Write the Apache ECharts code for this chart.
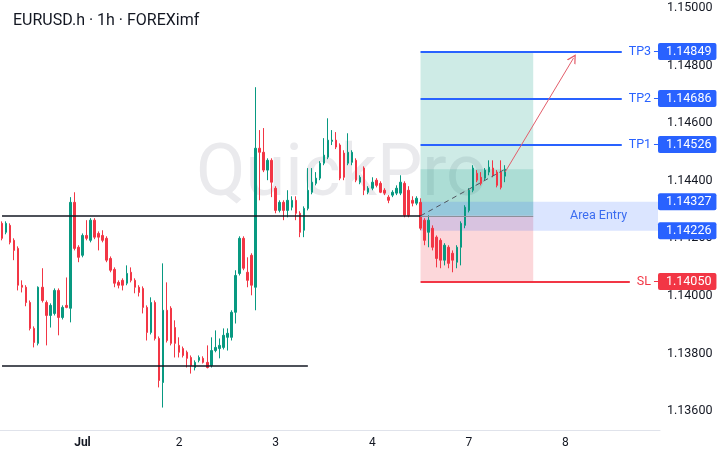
<!DOCTYPE html>
<html><head><meta charset="utf-8">
<script src="https://cdn.jsdelivr.net/npm/echarts@6/dist/echarts.min.js"></script>
<style>html,body{margin:0;padding:0;background:#fff;}#c{width:722px;height:456px;}</style>
</head><body><div id="c"></div>
<script>
const title = 'EURUSD.h · 1h · FOREXimf';
const watermark = 'QuickPro';
// hourly candles [open, close, low, high], Jun 30 04:00 -> Jul 7 09:00 (weekend skipped)
const ohlc = [
[1.14252,1.14200,1.14193,1.14259],[1.14221,1.14252,1.14214,1.14259],[1.14245,1.14186,1.14179,1.14252],
[1.14193,1.14158,1.14124,1.14200],[1.14165,1.14037,1.14019,1.14172],[1.14037,1.14030,1.14012,1.14054],
[1.14030,1.13977,1.13964,1.14037],[1.13977,1.13887,1.13880,1.13984],[1.13887,1.13838,1.13821,1.13894],
[1.13835,1.14030,1.13828,1.14033],[1.14030,1.13984,1.13977,1.14096],[1.13977,1.13932,1.13828,1.13984],
[1.13932,1.13967,1.13890,1.13974],[1.13939,1.14019,1.13932,1.14026],[1.14019,1.13925,1.13863,1.14026],
[1.13925,1.13960,1.13918,1.13967],[1.13967,1.13960,1.13957,1.14064],[1.13957,1.14325,1.13908,1.14343],
[1.14325,1.14165,1.14158,1.14360],[1.14169,1.14134,1.14117,1.14176],[1.14141,1.14210,1.14134,1.14217],
[1.14210,1.14200,1.14193,1.14263],[1.14193,1.14263,1.14186,1.14270],[1.14263,1.14204,1.14197,1.14270],
[1.14217,1.14204,1.14158,1.14224],[1.14210,1.14193,1.14186,1.14228],[1.14200,1.14124,1.14117,1.14207],
[1.14130,1.14089,1.14082,1.14137],[1.14092,1.14044,1.14030,1.14099],[1.14047,1.14037,1.14026,1.14054],
[1.14054,1.14037,1.14019,1.14061],[1.14044,1.14078,1.14037,1.14106],[1.14082,1.14054,1.14047,1.14099],
[1.14054,1.14030,1.14009,1.14061],[1.14030,1.14012,1.13998,1.14037],[1.14026,1.13960,1.13939,1.14033],
[1.13960,1.13873,1.13845,1.13967],[1.13873,1.13977,1.13866,1.13995],[1.13977,1.13852,1.13845,1.13984],
[1.13852,1.13706,1.13682,1.13859],[1.13699,1.13950,1.13612,1.14113],[1.13950,1.13845,1.13838,1.14047],
[1.13957,1.13835,1.13828,1.13964],[1.13890,1.13835,1.13786,1.13915],[1.13828,1.13804,1.13786,1.13856],
[1.13817,1.13793,1.13786,1.13824],[1.13804,1.13783,1.13751,1.13810],[1.13786,1.13758,1.13730,1.13793],
[1.13751,1.13769,1.13741,1.13776],[1.13776,1.13786,1.13769,1.13793],[1.13783,1.13769,1.13765,1.13790],
[1.13769,1.13751,1.13748,1.13828],[1.13758,1.13810,1.13751,1.13856],[1.13810,1.13821,1.13804,1.13880],
[1.13817,1.13828,1.13783,1.13852],[1.13821,1.13863,1.13814,1.13887],[1.13856,1.13870,1.13810,1.13887],
[1.13856,1.13943,1.13845,1.13950],[1.13943,1.14071,1.13904,1.14089],[1.14078,1.14200,1.14071,1.14207],
[1.14200,1.14096,1.14089,1.14207],[1.14082,1.14054,1.14030,1.14134],[1.14141,1.14037,1.14002,1.14148],
[1.14030,1.14513,1.13950,1.14725],[1.14513,1.14499,1.14332,1.14576],[1.14499,1.14437,1.14430,1.14583],
[1.14437,1.14471,1.14402,1.14478],[1.14471,1.14395,1.14343,1.14478],[1.14374,1.14297,1.14287,1.14381],
[1.14297,1.14325,1.14290,1.14332],[1.14325,1.14297,1.14263,1.14332],[1.14297,1.14332,1.14273,1.14367],
[1.14308,1.14332,1.14297,1.14346],[1.14332,1.14287,1.14263,1.14346],[1.14287,1.14221,1.14204,1.14294],
[1.14228,1.14304,1.14204,1.14311],[1.14304,1.14367,1.14297,1.14444],[1.14360,1.14395,1.14353,1.14444],
[1.14391,1.14409,1.14384,1.14430],[1.14409,1.14461,1.14402,1.14468],[1.14461,1.14489,1.14454,1.14548],
[1.14482,1.14541,1.14475,1.14617],[1.14537,1.14541,1.14524,1.14576],[1.14541,1.14517,1.14510,1.14569],
[1.14524,1.14409,1.14402,1.14530],[1.14496,1.14412,1.14402,1.14506],[1.14461,1.14499,1.14454,1.14565],
[1.14464,1.14499,1.14454,1.14506],[1.14471,1.14402,1.14395,1.14478],[1.14395,1.14412,1.14388,1.14419],
[1.14444,1.14367,1.14350,1.14450],[1.14360,1.14374,1.14353,1.14381],[1.14374,1.14395,1.14367,1.14412],
[1.14402,1.14384,1.14377,1.14409],[1.14391,1.14360,1.14357,1.14398],[1.14367,1.14357,1.14350,1.14374],
[1.14343,1.14332,1.14322,1.14350],[1.14350,1.14360,1.14343,1.14367],[1.14357,1.14374,1.14350,1.14384],
[1.14357,1.14395,1.14350,1.14419],[1.14391,1.14280,1.14273,1.14398],[1.14367,1.14280,1.14273,1.14381],
[1.14332,1.14322,1.14311,1.14346],[1.14322,1.14339,1.14315,1.14346],[1.14325,1.14235,1.14228,1.14339],
[1.14263,1.14193,1.14176,1.14270],[1.14221,1.14263,1.14169,1.14280],[1.14235,1.14169,1.14158,1.14245],
[1.14204,1.14130,1.14099,1.14210],[1.14193,1.14124,1.14096,1.14200],[1.14124,1.14176,1.14106,1.14183],
[1.14169,1.14113,1.14096,1.14176],[1.14148,1.14124,1.14082,1.14158],[1.14117,1.14169,1.14096,1.14176],
[1.14169,1.14252,1.14106,1.14259],[1.14245,1.14308,1.14235,1.14315],[1.14297,1.14367,1.14290,1.14374],
[1.14367,1.14444,1.14360,1.14454],[1.14426,1.14402,1.14395,1.14437],[1.14412,1.14391,1.14384,1.14430],
[1.14409,1.14437,1.14402,1.14444],[1.14430,1.14447,1.14419,1.14471],[1.14444,1.14419,1.14412,1.14471],
[1.14430,1.14384,1.14377,1.14437],[1.14430,1.14377,1.14370,1.14471],[1.14416,1.14440,1.14395,1.14454]
];
const totalSlots = 164;                 // candles + empty future slots on the time axis
const dayStartIdx = [20, 44, 68, 92, 116, 140];
const dayLabels = ['Jul', '2', '3', '4', '7', '8'];
const yTicks = [1.136, 1.138, 1.140, 1.142, 1.144, 1.146, 1.148, 1.150];
const tpNames = ['TP1', 'TP2', 'TP3'];
const tpLevels = [1.14526, 1.14686, 1.14849];
const slLevel = 1.14050;
const entryZone = [1.14226, 1.14327];
const entryPrice = 1.14278;
const supportLevels = [1.14278, 1.13758];
const supportEndIdx = [104, 76];
const posStartIdx = 104, posEndIdx = 132, levelEndIdx = 154, slEndIdx = 156, zoneEndIdx = 163;
const lastIdx = 125, lastClose = 1.14440;
const arrowTarget = [142, 1.14826];

// category labels (hourly)
const categories = [];
const t0 = Date.UTC(2025, 5, 30, 4);
for (let i = 0; i < totalSlots; i++) {
  const h = i < 116 ? i : i + 48;
  const d = new Date(t0 + h * 3600e3);
  categories.push((d.getUTCMonth() + 1) + '-' + d.getUTCDate() + ' ' + String(d.getUTCHours()).padStart(2, '0') + ':00');
}

const ink = '#131722', up = '#089981', down = '#f23645', blue = '#2962ff';
const FF = 'Roboto';
const chart = echarts.init(document.getElementById('c'));

function seg(i0, i1, v, lineStyle, label) {
  return [{coord: [i0, v], lineStyle: lineStyle, label: label || {show: false}}, {coord: [i1, v]}];
}
const tagLabel = (bg, v) => ({show: true, position: 'end', distance: -2, formatter: v.toFixed(5),
  backgroundColor: bg, color: '#ffffff', fontSize: 12.5, fontFamily: FF, padding: [2, 5, 1, 8], borderRadius: 2, lineHeight: 14});

const overlayLines = [];
supportLevels.forEach((v, k) => overlayLines.push(seg(0, supportEndIdx[k], v, {color: ink, width: 1.5, type: 'solid'})));
overlayLines.push(seg(posStartIdx, posEndIdx, entryPrice, {color: '#8d909a', width: 1, type: 'solid'}));
tpLevels.forEach((v, k) => {
  overlayLines.push(seg(posStartIdx, levelEndIdx, v, {color: blue, width: 2, type: 'solid'},
    {show: true, position: 'end', distance: 7, formatter: tpNames[k], color: blue, fontSize: 12.5, fontFamily: FF}));
  overlayLines.push(seg(zoneEndIdx - 1, zoneEndIdx, v, {color: blue, width: 1, type: 'solid'}));
});
overlayLines.push(seg(posStartIdx, slEndIdx, slLevel, {color: down, width: 2, type: 'solid'},
  {show: true, position: 'end', distance: 7, formatter: 'SL', color: down, fontSize: 12.5, fontFamily: FF}));
overlayLines.push(seg(zoneEndIdx - 1, zoneEndIdx, slLevel, {color: down, width: 1, type: 'solid'}));

const tagLines = [];
tpLevels.forEach(v => tagLines.push({yAxis: v, label: tagLabel(blue, v)}));
entryZone.forEach(v => tagLines.push({yAxis: v, label: tagLabel(blue, v)}));
tagLines.push({yAxis: slLevel, label: tagLabel(down, slLevel)});

const option = {
  backgroundColor: '#ffffff',
  animation: false,
  title: {text: title, left: 8, top: 8, textStyle: {fontSize: 16, fontWeight: 'normal', color: ink, fontFamily: FF}},
  graphic: [{type: 'text', left: 196, top: 141, z: 0, silent: true,
    style: {text: watermark, font: '72px Roboto', fill: '#eaeaed'}}],
  grid: {left: 0, right: 62, top: 0, bottom: 26},
  xAxis: {
    type: 'category', data: categories, boundaryGap: true,
    axisLine: {show: true, lineStyle: {color: '#e0e3eb'}}, axisTick: {show: false}, splitLine: {show: false},
    axisLabel: {
      interval: (idx) => dayStartIdx.indexOf(idx) >= 0,
      formatter: (val, idx) => { const k = dayStartIdx.indexOf(idx); return k === 0 ? '{b|' + dayLabels[k] + '}' : dayLabels[k]; },
      color: ink, fontSize: 12, fontFamily: FF, margin: 7,
      rich: {b: {fontWeight: 'bold', fontSize: 12, fontFamily: FF, color: ink}}
    }
  },
  yAxis: {
    type: 'value', position: 'right', min: 1.13534, max: 1.15028, scale: true,
    splitLine: {show: false}, axisLine: {show: false}, axisTick: {show: false},
    axisLabel: {customValues: yTicks, formatter: v => v.toFixed(5), color: ink, fontSize: 12.5, fontFamily: FF, margin: 7}
  },
  series: [
    {
      type: 'line', data: [], z: 1, silent: true,
      markArea: {silent: true, data: [
        [{coord: [posStartIdx, tpLevels[2]], itemStyle: {color: 'rgba(8,153,129,0.2)'}}, {coord: [posEndIdx, entryPrice]}],
        [{coord: [posStartIdx, lastClose], itemStyle: {color: 'rgba(8,153,129,0.17)'}}, {coord: [posEndIdx, entryPrice]}],
        [{coord: [posStartIdx, entryPrice], itemStyle: {color: 'rgba(242,54,69,0.2)'}}, {coord: [posEndIdx, slLevel]}]
      ]},
      markLine: {silent: true, symbol: ['none', 'none'], data: [
        [{coord: [posStartIdx, entryPrice], lineStyle: {color: '#50535e', width: 1, type: [5, 4]}, label: {show: false}}, {coord: [lastIdx, lastClose]}]
      ]}
    },
    {
      type: 'line', data: [], z: 1, silent: true,
      markArea: {silent: true, data: [
        [{coord: [posStartIdx, entryZone[1]], itemStyle: {color: 'rgba(41,98,255,0.17)'},
          label: {show: true, position: ['75%', '50%'], align: 'center', verticalAlign: 'middle', formatter: 'Area Entry', color: '#3b6cf0', fontSize: 12.5, fontFamily: FF}},
         {coord: [zoneEndIdx, entryZone[0]]}]
      ]}
    },
    {
      type: 'candlestick', data: ohlc, z: 3, barWidth: 2,
      itemStyle: {color: up, color0: down, borderColor: up, borderColor0: down, borderWidth: 1}
    },
    {
      type: 'line', data: [], z: 5, silent: true,
      markLine: {silent: true, symbol: ['none', 'none'], precision: 5, data: overlayLines}
    },
    {
      type: 'line', data: [], z: 6, silent: true,
      markLine: {silent: true, symbol: ['none', 'none'], precision: 5,
        lineStyle: {color: 'rgba(255,255,255,0)', width: 1, type: 'solid'},
        label: {show: true}, data: tagLines}
    },
    {
      type: 'line', data: [], z: 5, silent: true,
      markLine: {silent: true, precision: 5, symbol: ['none', 'path://M0,10 L5,0 L10,10 L8.6,10 L5,2.8 L1.4,10 Z'], symbolSize: [10, 9], data: [
        [{coord: [lastIdx, 1.14430], lineStyle: {color: '#e35d6a', width: 1, type: 'solid'}, label: {show: false}}, {coord: arrowTarget}]
      ]}
    }
  ]
};
chart.setOption(option);
</script></body></html>
